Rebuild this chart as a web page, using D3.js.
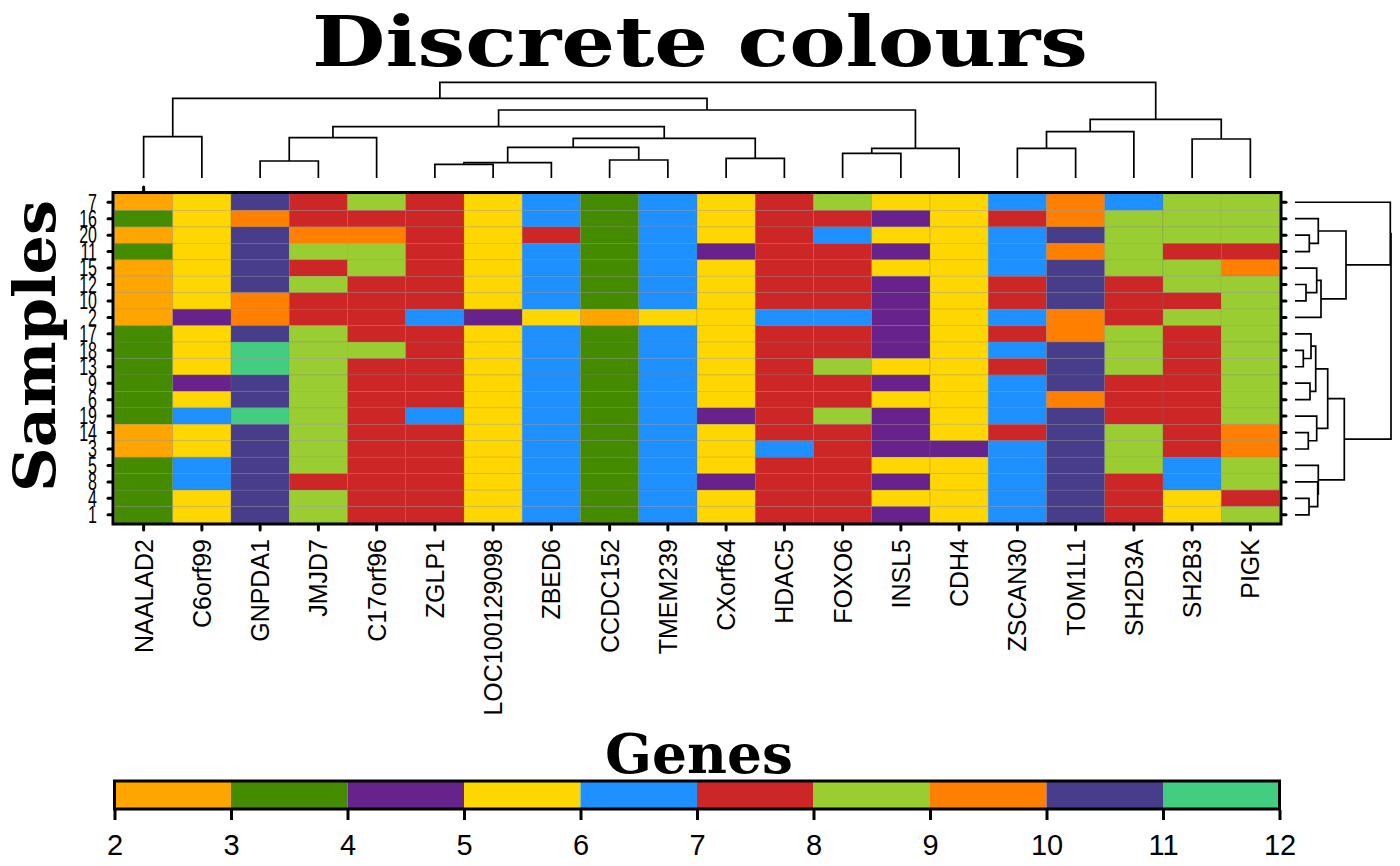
<!DOCTYPE html>
<html><head><meta charset="utf-8">
<script src="https://cdn.jsdelivr.net/npm/d3@7"></script>
<style>body{margin:0;background:#fff}</style>
</head><body>
<svg id="chart" width="1400" height="866"></svg>
<script>
// ---------- data ----------
const genes = ["NAALAD2","C6orf99","GNPDA1","JMJD7","C17orf96","ZGLP1","LOC100129098","ZBED6","CCDC152","TMEM239",
  "CXorf64","HDAC5","FOXO6","INSL5","CDH4","ZSCAN30","TOM1L1","SH2D3A","SH2B3","PIGK"];
const samples = ["7","16","20","11","15","12","10","2","17","18","13","9","6","19","14","3","5","8","4","1"];

// one array per gene (column), values listed top sample -> bottom sample
const geneValues = [
  [2,3,2,3,2,2,2,2,3,3,3,3,3,3,2,2,3,3,3,3],
  [5,5,5,5,5,5,5,4,5,5,5,4,5,6,5,5,6,6,5,5],
  [10,9,10,10,10,10,9,9,10,11,11,10,10,11,10,10,10,10,10,10],
  [7,7,9,8,7,8,7,7,8,8,8,8,8,8,8,8,8,7,8,8],
  [8,7,9,8,8,7,7,7,7,8,7,7,7,7,7,7,7,7,7,7],
  [7,7,7,7,7,7,7,6,7,7,7,7,7,6,7,7,7,7,7,7],
  [5,5,5,5,5,5,5,4,5,5,5,5,5,5,5,5,5,5,5,5],
  [6,6,7,6,6,6,6,5,6,6,6,6,6,6,6,6,6,6,6,6],
  [3,3,3,3,3,3,3,2,3,3,3,3,3,3,3,3,3,3,3,3],
  [6,6,6,6,6,6,6,5,6,6,6,6,6,6,6,6,6,6,6,6],
  [5,5,5,4,5,5,5,5,5,5,5,5,5,4,5,5,5,4,5,5],
  [7,7,7,7,7,7,7,6,7,7,7,7,7,7,7,6,7,7,7,7],
  [8,7,6,7,7,7,7,6,7,7,8,7,7,8,7,7,7,7,7,7],
  [5,4,5,4,5,4,4,4,4,4,5,4,5,4,4,4,5,4,5,4],
  [5,5,5,5,5,5,5,5,5,5,5,5,5,5,5,4,5,5,5,5],
  [6,7,6,6,6,7,7,6,7,6,7,6,6,6,7,6,6,6,6,6],
  [9,9,10,9,10,10,10,9,9,10,10,10,9,10,10,10,10,10,10,10],
  [6,8,8,8,8,7,7,7,8,8,8,7,7,7,8,8,8,7,7,7],
  [8,8,8,7,8,8,7,8,7,7,7,7,7,7,7,7,6,6,5,5],
  [8,8,8,7,9,8,8,8,8,8,8,8,8,8,9,9,8,8,7,8]
];

const colourLevels = [2,3,4,5,6,7,8,9,10,11];
const colourValues = ["#FFA500","#458B00","#68228B","#FFD700","#1E90FF","#CD2626","#9ACD32","#FF7F00","#483D8B","#43CD80"];
const legendTicks = [2,3,4,5,6,7,8,9,10,11,12];

// dendrogram merges: [left, right, height]; negative = leaf (display position), positive = earlier merge
const colMerge = [
  [-1,-2,41.3],[-3,-4,17],[2,-5,40.3],[-6,-7,13.7],[4,-8,15.3],[-9,-10,18],[5,6,30.7],
  [-11,-12,19.7],[7,8,39.7],[3,9,51.3],[-13,-14,24.7],[11,-15,29.7],[10,12,68],[1,13,79.7],
  [-16,-17,29.7],[15,-18,46.3],[-19,-20,39],[16,17,58.7],[14,18,95.7]
];
const rowMerge = [
  [-3,-4,14.3],[-2,1,23.3],[-6,-7,11],[-5,3,21.7],[4,-8,26],[2,5,51],[-1,6,95.3],
  [-10,-11,8.3],[-9,8,16],[-12,-13,15],[9,10,20.7],[-15,-16,13.3],[-14,12,21.7],[11,13,32.7],
  [-19,-20,14],[-18,15,22.7],[-17,16,23.3],[14,17,49.3],[7,18,96]
];

// ---------- drawing ----------
const svg = d3.select("#chart");
const sans = "'Liberation Sans', Arial, Helvetica, sans-serif";
const serif = "'DejaVu Serif', serif";

const x = d3.scaleBand().domain(genes).range([114.5, 1279.5]);
const y = d3.scaleBand().domain(samples).range([194, 523]);
const colour = d3.scaleOrdinal().domain(colourLevels).range(colourValues);

// cells
const cells = [];
genes.forEach((g, i) => samples.forEach((s, j) => cells.push({g, s, v: geneValues[i][j]})));
svg.append("g").selectAll("rect").data(cells).join("rect")
  .attr("x", d => x(d.g)).attr("y", d => y(d.s))
  .attr("width", x.bandwidth()).attr("height", y.bandwidth())
  .attr("fill", d => colour(d.v))
  .attr("stroke", "rgba(120,120,120,0.35)").attr("stroke-width", 0.7);

svg.append("rect").attr("x", 113).attr("y", 192.5).attr("width", 1168).attr("height", 331.5)
  .attr("fill", "none").attr("stroke", "#000").attr("stroke-width", 3);

// ticks
const tk = svg.append("g").attr("stroke", "#000").attr("stroke-width", 3).attr("stroke-linecap", "round");
samples.forEach(s => {
  const cy = y(s) + y.bandwidth() / 2;
  tk.append("line").attr("x1", 108).attr("x2", 112).attr("y1", cy).attr("y2", cy);
  tk.append("line").attr("x1", 1282).attr("x2", 1286).attr("y1", cy).attr("y2", cy);
});
genes.forEach(g => {
  const cx = x(g) + x.bandwidth() / 2;
  tk.append("line").attr("x1", cx).attr("x2", cx).attr("y1", 526).attr("y2", 530);
});
{
  const cx = x(genes[0]) + x.bandwidth() / 2;
  tk.append("line").attr("x1", cx).attr("x2", cx).attr("y1", 187).attr("y2", 191);
}

// column labels
svg.append("g").selectAll("text").data(genes).join("text")
  .attr("transform", g => `translate(${x(g) + x.bandwidth() / 2},539) rotate(-90)`)
  .attr("dy", "0.36em").attr("text-anchor", "end")
  .style("font-family", sans).style("font-size", "25px").text(g => g);

// row labels (upright, tall narrow digits)
svg.append("g").selectAll("text").data(samples).join("text")
  .attr("transform", s => `translate(97,${y(s) + y.bandwidth() / 2}) scale(1,1.45)`)
  .attr("text-anchor", "end").attr("dy", "0.36em")
  .style("font-family", sans).style("font-size", "16px").text(s => s);

// dendrograms
function build(merge, leafPos) {
  const nodes = [];
  const get = k => k < 0 ? {pos: leafPos(-k - 1), h: 0} : nodes[k - 1];
  merge.forEach(([a, b, h]) => {
    const A = get(a), B = get(b);
    nodes.push({A, B, h, pos: (A.pos + B.pos) / 2});
  });
  return nodes;
}
const colNodes = build(colMerge, i => x(genes[i]) + x.bandwidth() / 2);
const yD = d3.scaleLinear().domain([0, d3.max(colMerge, m => m[2])]).range([178, 82.3]);
svg.append("g").selectAll("path").data(colNodes).join("path")
  .attr("d", n => `M${n.A.pos},${yD(n.A.h)}V${yD(n.h)}H${n.B.pos}V${yD(n.B.h)}`)
  .attr("fill", "none").attr("stroke", "#000").attr("stroke-width", 1.7);

const rowNodes = build(rowMerge, i => y(samples[i]) + y.bandwidth() / 2);
const xD = d3.scaleLinear().domain([0, d3.max(rowMerge, m => m[2])]).range([1295, 1391]);
svg.append("g").selectAll("path").data(rowNodes).join("path")
  .attr("d", n => `M${xD(n.A.h)},${n.A.pos}H${xD(n.h)}V${n.B.pos}H${xD(n.B.h)}`)
  .attr("fill", "none").attr("stroke", "#000").attr("stroke-width", 1.7);

// titles
svg.append("text").attr("x", 700).attr("y", 66).attr("text-anchor", "middle")
  .attr("textLength", 776).attr("lengthAdjust", "spacingAndGlyphs")
  .style("font-family", serif).style("font-weight", "bold").style("font-size", "70px")
  .text("Discrete colours");
svg.append("text").attr("transform", "translate(55,346) rotate(-90)").attr("text-anchor", "middle")
  .attr("textLength", 292).attr("lengthAdjust", "spacingAndGlyphs")
  .style("font-family", serif).style("font-weight", "bold").style("font-size", "58px")
  .text("Samples");
svg.append("text").attr("x", 699).attr("y", 773).attr("text-anchor", "middle")
  .attr("textLength", 188).attr("lengthAdjust", "spacingAndGlyphs")
  .style("font-family", serif).style("font-weight", "bold").style("font-size", "55px")
  .text("Genes");

// legend
const xL = d3.scaleLinear().domain([legendTicks[0], legendTicks[legendTicks.length - 1]]).range([114.5, 1279.5]);
svg.append("g").selectAll("rect").data(colourLevels).join("rect")
  .attr("x", v => xL(v)).attr("y", 781).attr("width", v => xL(v + 1) - xL(v)).attr("height", 28)
  .attr("fill", v => colour(v));
svg.append("rect").attr("x", 114.5).attr("y", 781).attr("width", 1165).attr("height", 28)
  .attr("fill", "none").attr("stroke", "#000").attr("stroke-width", 3);
const ax = svg.append("g").attr("transform", "translate(0,810)")
  .call(d3.axisBottom(xL).tickValues(legendTicks).tickSize(10).tickPadding(14).tickFormat(d3.format("d")));
ax.select(".domain").remove();
ax.selectAll(".tick line").attr("stroke", "#000").attr("stroke-width", 3);
ax.selectAll(".tick text").style("font-family", sans).style("font-size", "29px").attr("fill", "#000");
</script>
</body></html>
